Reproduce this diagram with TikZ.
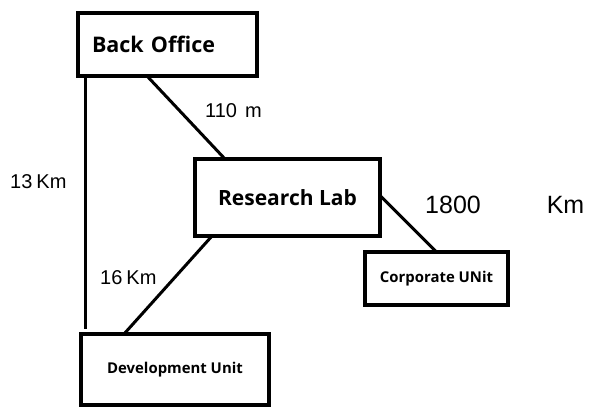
\documentclass[tikz,border=0pt]{standalone}
\usepackage{fontspec}
\setmainfont{Open Sans}
\newfontfamily\hand{Liberation Sans}
\begin{document}
\begin{tikzpicture}[x=1pt,y=-1pt,
  box/.style={draw=black,line width=3.5pt,fill=white,inner sep=0pt,outer sep=0pt,anchor=north west,font=\bfseries},
  link/.style={line width=3pt},
  lbl/.style={font=\hand,inner sep=0pt,anchor=west}]
\useasboundingbox (0,0) rectangle (604,417);
\node[box,minimum width=179pt,minimum height=63pt,font=\bfseries\fontsize{21.5}{24}\selectfont,text width=151pt,align=left] (bo) at (78,13) {Back Office};
\node[box,minimum width=185pt,minimum height=77pt,font=\bfseries\fontsize{21}{24}\selectfont] (rl) at (195,159) {Research Lab};
\node[box,minimum width=143pt,minimum height=53pt,font=\bfseries\fontsize{14.9}{17}\selectfont] (cu) at (365,252) {Corporate UNit};
\node[box,minimum width=188pt,minimum height=71pt,font=\bfseries\fontsize{14.9}{17}\selectfont] (du) at (81,334) {Development Unit};
\draw[link] ([xshift=7pt]bo.south west) -- ([xshift=4pt,yshift=5pt]du.north west);
\draw[link] ([xshift=69pt]bo.south west) -- ([xshift=30pt]rl.north west);
\draw[link] ([xshift=17pt]rl.south west) -- ([xshift=43pt]du.north west);
\draw[link] ([yshift=2pt]rl.east) -- (cu.north);
\node[lbl,font=\hand\fontsize{20}{22}\selectfont] (l1) at (205,111) {110\hspace{8pt}m};
\node[lbl,font=\hand\fontsize{20}{22}\selectfont] (l2) at (10,182) {13\hspace{4pt}Km};
\node[lbl,font=\hand\fontsize{20}{22}\selectfont] (l3) at (100,278) {16\hspace{4pt}Km};
\node[lbl,font=\hand\fontsize{25}{27}\selectfont] (l4) at (425,205) {1800\hspace{66pt}Km};
\end{tikzpicture}
\end{document}
